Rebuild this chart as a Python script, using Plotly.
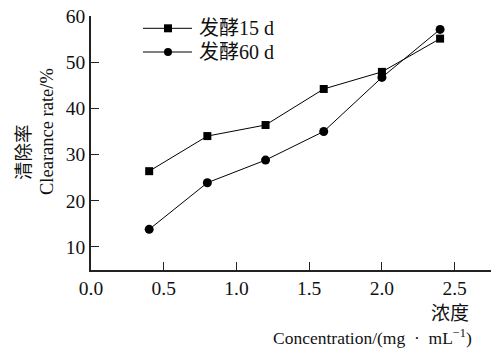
import plotly.graph_objects as go

conc = [0.4, 0.8, 1.2, 1.6, 2.0, 2.4]
rate_15d = [26.4, 34.0, 36.4, 44.2, 47.9, 55.1]
rate_60d = [13.8, 23.9, 28.8, 35.0, 46.7, 57.1]
name_15d = "发酵15 d"
name_60d = "发酵60 d"
x_ticks = [0, 0.5, 1.0, 1.5, 2.0, 2.5, 2.75]
x_ticktext = ["0.0", "0.5", "1.0", "1.5", "2.0", "2.5", ""]
y_ticks = [10, 20, 30, 40, 50, 60]

FONT = "Liberation Serif, Times New Roman, Noto Sans CJK SC, serif"

fig = go.Figure()
fig.add_trace(go.Scatter(x=conc, y=rate_15d, mode="lines+markers", name=name_15d,
                         line=dict(color="black", width=1),
                         marker=dict(symbol="square", size=8, color="black")))
fig.add_trace(go.Scatter(x=conc, y=rate_60d, mode="lines+markers", name=name_60d,
                         line=dict(color="black", width=1),
                         marker=dict(symbol="circle", size=9, color="black")))

fig.update_layout(
    width=493, height=349,
    margin=dict(l=91, r=2, t=16, b=79),
    paper_bgcolor="white", plot_bgcolor="white",
    font=dict(family=FONT, color="#111", size=18),
    showlegend=False,
    xaxis=dict(range=[0, 2.75], tickvals=x_ticks, ticktext=x_ticktext,
               ticks="inside", ticklen=8, tickwidth=1.2, tickcolor="#222",
               showline=True, linecolor="#222", linewidth=1.5,
               showgrid=False, zeroline=False,
               tickfont=dict(size=19.5, family=FONT)),
    yaxis=dict(range=[5, 60], tickvals=y_ticks,
               ticks="inside", ticklen=8, tickwidth=1.2, tickcolor="#222",
               showline=True, linecolor="#222", linewidth=1.5,
               showgrid=False, zeroline=False,
               tickfont=dict(size=19.5, family=FONT)),
)

# manual legend (key) in paper coordinates
def px_x(p):
    return (p - 91) / 400.0

def px_y(p):
    return (270 - p) / 254.0

legend_rows = [(name_15d, 28.3, "square"), (name_60d, 52.0, "circle")]
for label, yy, sym in legend_rows:
    fig.add_shape(type="line", xref="paper", yref="paper",
                  x0=px_x(143), x1=px_x(192), y0=px_y(yy), y1=px_y(yy),
                  line=dict(color="black", width=1))
    r = 4
    fig.add_shape(type="rect" if sym == "square" else "circle",
                  xref="paper", yref="paper",
                  x0=px_x(168 - r), x1=px_x(168 + r), y0=px_y(yy + r), y1=px_y(yy - r),
                  fillcolor="black", line=dict(color="black", width=0))
    fig.add_annotation(text=label, xref="paper", yref="paper", x=px_x(197), y=px_y(yy),
                       xanchor="left", yanchor="middle", showarrow=False,
                       font=dict(size=20, family=FONT))

fig.add_annotation(text="清除率", xref="paper", yref="paper", x=px_x(24), y=px_y(152),
                   xanchor="center", yanchor="middle", textangle=-90, showarrow=False,
                   font=dict(size=18.5, family=FONT))
fig.add_annotation(text="Clearance rate/%", xref="paper", yref="paper", x=px_x(47), y=px_y(132),
                   xanchor="center", yanchor="middle", textangle=-90, showarrow=False,
                   font=dict(size=18.5, family=FONT))
fig.add_annotation(text="浓度", xref="paper", yref="paper", x=px_x(471), y=px_y(313),
                   xanchor="right", yanchor="middle", showarrow=False,
                   font=dict(size=19, family=FONT))
fig.add_annotation(text="Concentration/(mg  ·  mL<sup>−1</sup>)", xref="paper", yref="paper",
                   x=px_x(474), y=px_y(337), xanchor="right", yanchor="middle", showarrow=False,
                   font=dict(size=17.5, family=FONT))

fig.write_html("out.html")
